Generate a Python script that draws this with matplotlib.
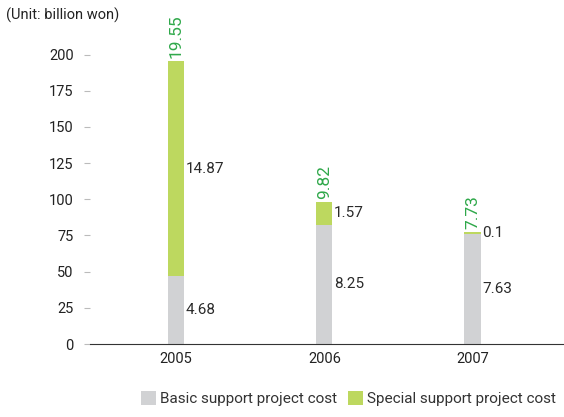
import numpy as np
import matplotlib
matplotlib.use('Agg')
from matplotlib import pyplot as plt

# data (billion won); bars drawn at 10x scale like the original chart
years = ['2005', '2006', '2007']
basic = [4.68, 8.25, 7.63]
special = [14.87, 1.57, 0.1]
totals = [19.55, 9.82, 7.73]
yticks = [0, 25, 50, 75, 100, 125, 150, 175, 200]

grey = '#d1d2d4'
green = '#bdd85f'
txt_green = '#2fa84a'

plt.rcParams['font.family'] = ['Roboto', 'DejaVu Sans']

fig = plt.figure(figsize=(5.64, 4.17), dpi=100)
ax = fig.add_axes([0.16, 0.175, 0.838, 0.76])

x = np.arange(len(years))
b = np.array(basic) * 10
s = np.array(special) * 10
w = 0.11
ax.bar(x, b, width=w, color=grey, label='Basic support project cost')
ax.bar(x, s, width=w, bottom=b, color=green, label='Special support project cost')

for i in range(len(years)):
    ax.text(x[i] + w / 2 + 0.01, b[i] / 2, f'{basic[i]:g}', ha='left', va='center',
            fontsize=11, color='#2a2a2a')
    ax.text(x[i] + w / 2 + 0.01, b[i] + s[i] / 2, f'{special[i]:g}', ha='left', va='center',
            fontsize=11, color='#2a2a2a')
    ax.text(x[i], b[i] + s[i] + 2, f'{totals[i]:.2f}', rotation=90, ha='center', va='bottom',
            fontsize=12.5, color=txt_green)

ax.set_xlim(-0.58, 2.61)
ax.set_ylim(0, 219)
ax.set_xticks(x)
ax.set_xticklabels(years, fontsize=10.5, color='#222222')
ax.set_yticks(yticks)
ax.set_yticklabels([str(t) for t in yticks], fontsize=10.5, color='#222222')
ax.tick_params(axis='x', length=0, pad=6)
ax.tick_params(axis='y', length=4, color='#bbbbbb', pad=8)
for sp in ['top', 'right', 'left']:
    ax.spines[sp].set_visible(False)
ax.spines['bottom'].set_color('#333333')

fig.text(0.01, 0.952, '(Unit: billion won)', fontsize=10.5, color='#222222')

leg = fig.legend(loc='lower right', bbox_to_anchor=(1.005, 0.0), ncol=2, frameon=False,
                 fontsize=11, handlelength=1.0, handleheight=1.1, handletextpad=0.25,
                 columnspacing=0.7, borderaxespad=0.3)
for t in leg.get_texts():
    t.set_color('#333333')

fig.savefig('out.png', dpi=100)
